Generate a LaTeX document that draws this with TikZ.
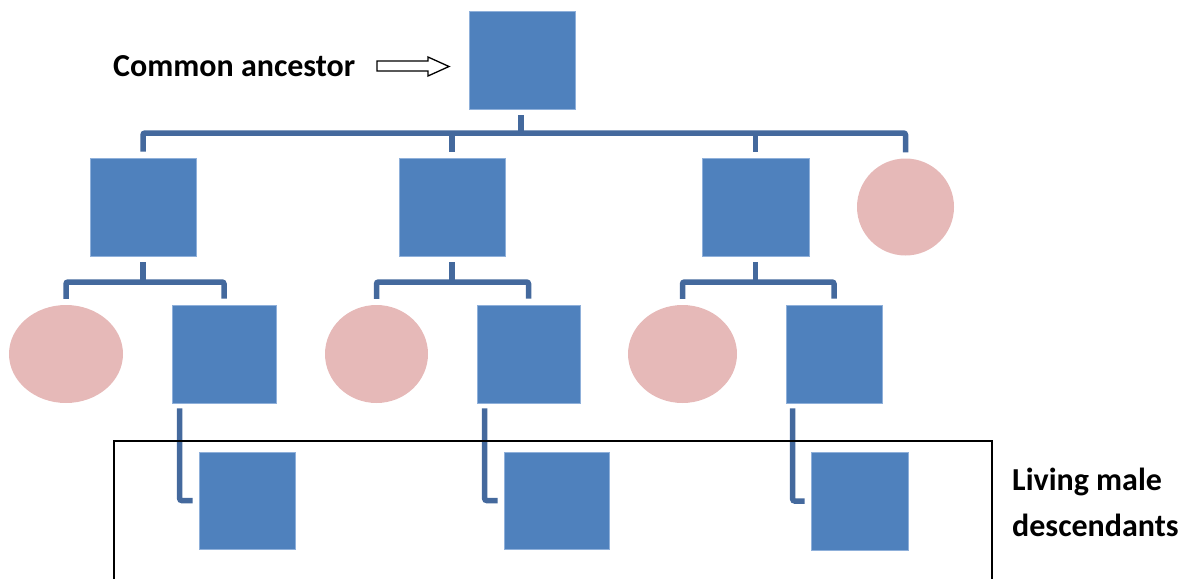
\documentclass[tikz,border=0pt]{standalone}
\usepackage{fontspec}
\setmainfont{Carlito}
\usetikzlibrary{shapes.geometric}
\definecolor{mblue}{HTML}{4F81BD}
\definecolor{eblue}{HTML}{8FB0DA}
\definecolor{lblue}{HTML}{44699D}
\definecolor{fpink}{HTML}{E6B9B8}
\tikzset{
  male/.style={rectangle, fill=mblue, draw=eblue, line width=0.6pt, inner sep=0pt, minimum width=#1},
  male/.default=106pt,
  female/.style={ellipse, fill=fpink, draw=none, inner sep=0pt, minimum width=#1, minimum height=98pt},
  conn/.style={draw=lblue, line width=5.5pt, rounded corners=2pt},
  lbl/.style={font=\bfseries\fontsize{32}{38}\selectfont, inner sep=0pt, anchor=base west},
  frame/.style={draw=black, line width=1.5pt},
}
\begin{document}
\begin{tikzpicture}[x=1pt,y=-1pt]
\useasboundingbox (0,0) rectangle (1188,578);
% generation 1
\node[male, minimum height=98pt] (top) at (522,60) {};
% generation 2
\node[male, minimum height=98pt] (a1) at (143,207) {};
\node[male, minimum height=98pt] (a2) at (452,207) {};
\node[male=107pt, minimum height=98pt] (a3) at (755.5,207) {};
\node[circle, fill=fpink, inner sep=0pt, minimum size=97pt] (a4) at (905.5,207) {};
% generation 3
\node[female=114pt] (b1) at (66,354) {};
\node[male=104pt, minimum height=98pt] (b2) at (224,354) {};
\node[female=103pt] (c1) at (376.5,354) {};
\node[male=103pt, minimum height=98pt] (c2) at (528.5,354) {};
\node[female=109pt] (d1) at (682.5,354) {};
\node[male=96pt, minimum height=98pt] (d2) at (834,354) {};
% generation 4
\node[male=96pt, minimum height=97pt] (e1) at (247,500.5) {};
\node[male=105pt, minimum height=97pt] (e2) at (556.5,500.5) {};
\node[male=97pt, minimum height=98pt] (e3) at (859.5,501) {};
% bus coordinates
\coordinate (bus1) at (521,133);
\coordinate (busb) at (143,282);
\coordinate (busc) at (452,282);
\coordinate (busd) at (755.5,282);
% connectors gen1 -> gen2 (canvas yshift: negative = down)
\draw[conn] ([yshift=-6pt]top.south -| bus1) -- (bus1);
\draw[conn] ([yshift=6pt]a1.north) |- (bus1) -| ([yshift=6pt]a4.north);
\draw[conn] ([yshift=6pt]a2.north) -- (a2.north |- bus1);
\draw[conn] ([yshift=6pt]a3.north) -- (a3.north |- bus1);
% connectors gen2 -> gen3
\draw[conn] ([yshift=-6pt]a1.south) -- (busb);
\draw[conn] ([yshift=6pt]b1.north) |- (busb) -| ([yshift=6pt]b2.north);
\draw[conn] ([yshift=-6pt]a2.south) -- (busc);
\draw[conn] ([yshift=6pt]c1.north) |- (busc) -| ([yshift=6pt]c2.north);
\draw[conn] ([yshift=-6pt]a3.south) -- (busd);
\draw[conn] ([yshift=6pt]d1.north) |- (busd) -| ([yshift=6pt]d2.north);
% connectors gen3 -> gen4
\draw[conn] ([xshift=8pt,yshift=-5pt]b2.south west) |- ([xshift=-6pt]e1.west);
\draw[conn] ([xshift=8pt,yshift=-5pt]c2.south west) |- ([xshift=-6pt]e2.west);
\draw[conn] ([xshift=7pt,yshift=-5pt]d2.south west) |- ([xshift=-6pt]e3.west);
% frame round living descendants
\draw[frame] (114,580) -- (114,441) -- (992,441) -- (992,580);
% labels
\node[lbl] (ca) at (113,76) {Common ancestor};
\node[lbl] (lm) at (1012,490) {Living male};
\node[lbl] (ld) at (1012,536) {descendants};
% block arrow
\draw[black, fill=white, line width=1.3pt, line join=miter]
  (377,61) -- (428,61) -- (428,57) -- (449,66.5) -- (428,76) -- (428,71) -- (377,71) -- cycle;
\end{tikzpicture}
\end{document}
